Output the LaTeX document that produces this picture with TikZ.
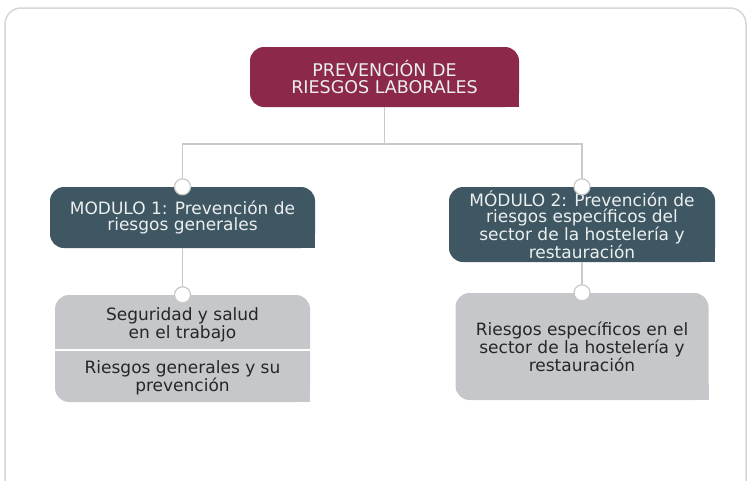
\documentclass[tikz,border=0pt]{standalone}
\usepackage{fontspec}
\setmainfont{DejaVu Sans}
\usepackage{tikz}
\usetikzlibrary{positioning}
\definecolor{wine}{HTML}{8c2849}
\definecolor{slate}{HTML}{3e5762}
\definecolor{ash}{HTML}{c5c7ca}
\definecolor{wire}{HTML}{c9c9c9}
\definecolor{frame}{HTML}{d6d6d6}
\definecolor{ink}{HTML}{262626}
\definecolor{paper}{HTML}{eceff0}

\begin{document}
\begin{tikzpicture}[x=1pt, y=-1pt,
    box/.style={rectangle, rounded corners=14pt, inner sep=0pt,
                align=center, font=\fontsize{17}{16}\selectfont},
    title/.style={box, fill=wine, text=paper, minimum width=269pt,
                  minimum height=60pt, font=\fontsize{17.5}{17}\selectfont},
    module/.style={box, fill=slate, text=paper, minimum width=265pt},
    content/.style={box, fill=ash, text=ink, minimum width=255pt,
                    minimum height=107pt},
    label/.style={align=center, text=ink, inner sep=0pt,
                  font=\fontsize{17}{16}\selectfont},
    link/.style={draw=wire, line width=1.5pt},
    knob/.style={circle, draw=wire, fill=white, line width=1.2pt,
                 minimum size=16pt, inner sep=0pt},
]
\useasboundingbox (0,0) rectangle (747,480);
\draw[frame, line width=1.5pt, rounded corners=16pt] (5,8) rectangle (746,500);

% cajas
\node[title] (top) at (384.5,77) {PREVENCIÓN DE\\RIESGOS LABORALES};
\node[module, minimum height=61pt] (m1) at (182.5,217.5)
    {MODULO 1: Prevención de\\riesgos generales};
\node[module, minimum height=75pt, minimum width=266pt] (m2) at (582,224.5)
    {MÓDULO 2: Prevención de\\riesgos específicos del\\sector de la hostelería y\\restauración};
\node[content] (c1) at (182.5,348.5) {};
\node[content, minimum width=253pt] (c2) at (582,346.5)
    {Riesgos específicos en el\\sector de la hostelería y\\restauración};

% esquina inferior derecha en pico
\foreach \n/\c in {top/wine, m1/slate, m2/slate, c1/ash, c2/ash}
    \fill[\c] (\n.south east) rectangle ++(-16,-16);

\coordinate (sep) at (182.5,350);
\draw[white, line width=2pt] (c1.west |- sep) -- (c1.east |- sep);
\node[label, above=8pt of sep] (c1a) {Seguridad y salud\\en el trabajo};
\node[label, below=10pt of sep] (c1b) {Riesgos generales y su\\prevención};

% conectores
\coordinate (bus) at (384.5,144);
\draw[link] (top.south) -- (bus);
\draw[link] (bus) -| (m1.north);
\draw[link] (bus) -| (m2.north);
\draw[link] (m1.south) -- (c1.north);
\draw[link] (m2.south) -- (c2.north -| m2.south);

\node[knob] (o1) at (m1.north) {};
\node[knob] (o2) at (m2.north) {};
\node[knob] (o3) at (c1.north) {};
\node[knob] (o4) at (c2.north -| m2.south) {};
\end{tikzpicture}
\end{document}
